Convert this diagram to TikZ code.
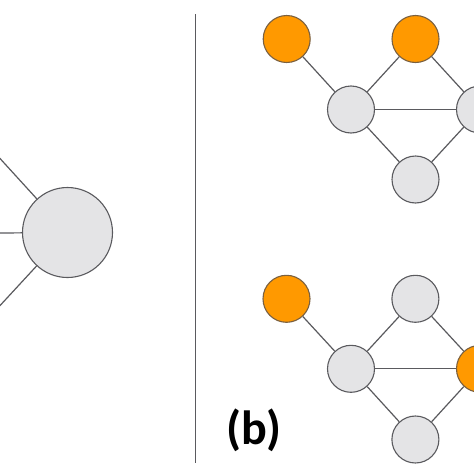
\documentclass[tikz,border=0pt]{standalone}
\usepackage{fontspec}
\setmainfont{Carlito}
\definecolor{nodegray}{HTML}{E4E4E6}
\definecolor{edgegray}{HTML}{5A5A5E}
\definecolor{orangefill}{HTML}{FF9900}
\definecolor{orangeedge}{HTML}{7A6040}
\begin{document}
\begin{tikzpicture}[x=1pt,y=-1pt,
  gnode/.style={circle,draw=edgegray,fill=nodegray,line width=1.1pt,minimum size=47pt,inner sep=0pt},
  onode/.style={circle,draw=orangeedge,fill=orangefill,line width=1.1pt,minimum size=47pt,inner sep=0pt},
  bignode/.style={circle,draw=edgegray,fill=nodegray,line width=1.1pt,minimum size=90pt,inner sep=0pt},
  link/.style={draw=edgegray,line width=1.2pt}]
\useasboundingbox[fill=white] (0,0) rectangle (474,474);
% left part
\node[bignode] (big) at (67.5,232.5) {};
\coordinate (l1) at (-5,153);
\coordinate (l2) at (0,233);
\coordinate (l3) at (-5,311);
\draw[link] (l1) -- (big);
\draw[link] (l2) -- (big);
\draw[link] (l3) -- (big);
% separator
\coordinate (s1) at (195.7,14);
\coordinate (s2) at (195.7,463);
\draw[draw=edgegray,line width=1.3pt] (s1) -- (s2);
% top graph
\node[onode] (ta) at (286.7,39) {};
\node[onode] (tb) at (415.5,39) {};
\node[gnode] (tc) at (351,109.5) {};
\node[gnode] (tr) at (480,109.5) {};
\node[gnode] (td) at (415.5,179.5) {};
\draw[link] (ta) -- (tc);
\draw[link] (tb) -- (tc);
\draw[link] (tb) -- (tr);
\draw[link] (tc) -- (tr);
\draw[link] (tc) -- (td);
\draw[link] (td) -- (tr);
% bottom graph
\node[onode] (ba) at (286.5,298.8) {};
\node[gnode] (bb) at (415.4,298.8) {};
\node[gnode] (bc) at (351,368.8) {};
\node[onode] (br) at (480,368.8) {};
\node[gnode] (bd) at (415.4,439.5) {};
\draw[link] (ba) -- (bc);
\draw[link] (bb) -- (bc);
\draw[link] (bb) -- (br);
\draw[link] (bc) -- (br);
\draw[link] (bc) -- (bd);
\draw[link] (bd) -- (br);
% label
\node[font=\bfseries\fontsize{48}{54}\selectfont,inner sep=0pt] (lab) at (254,430) {(b)};
\end{tikzpicture}
\end{document}
